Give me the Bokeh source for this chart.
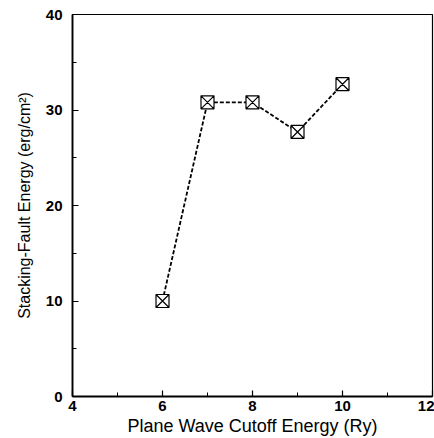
from bokeh.plotting import figure
from bokeh.models import Range1d, FixedTicker
from bokeh.embed import file_html
from bokeh.resources import INLINE

cutoff = [6, 7, 8, 9, 10]
sfe = [10.0, 30.8, 30.8, 27.7, 32.7]
x_ticks = [4, 6, 8, 10, 12]
y_ticks = [0, 10, 20, 30, 40]

p = figure(width=434, height=438, output_backend="svg", toolbar_location=None,
           x_range=Range1d(4, 12), y_range=Range1d(0, 40),
           min_border_left=72, min_border_right=2, min_border_top=14, min_border_bottom=42)
p.background_fill_color = "white"
p.border_fill_color = "white"
p.grid.visible = False
p.outline_line_color = "black"
p.outline_line_width = 1.2

for ax in (p.xaxis[0], p.yaxis[0]):
    ax.axis_line_width = 1.8
    ax.major_tick_in = 6
    ax.major_tick_out = 0
    ax.minor_tick_in = 4
    ax.minor_tick_out = 0
    ax.major_tick_line_width = 1.2
    ax.minor_tick_line_width = 1.0
    ax.major_label_text_font = "Liberation Sans"
    ax.major_label_text_font_style = "bold"
    ax.major_label_text_font_size = "15px"
    ax.major_label_text_color = "black"
    ax.axis_label_text_font = "Liberation Sans"
    ax.axis_label_text_font_style = "normal"
    ax.axis_label_text_color = "black"

p.xaxis.ticker = FixedTicker(ticks=x_ticks, minor_ticks=[5, 7, 9, 11])
p.yaxis.ticker = FixedTicker(ticks=y_ticks, minor_ticks=[5, 15, 25, 35])
p.xaxis.major_label_standoff = 4
p.yaxis.major_label_standoff = 10

p.yaxis.axis_label = "Stacking-Fault Energy (erg/cm²)"
p.yaxis.axis_label_text_font_size = "16px"
p.yaxis.axis_label_standoff = 10

p.xaxis.axis_label = "Plane Wave Cutoff Energy (Ry)"
p.xaxis.axis_label_text_font_size = "18px"
p.xaxis.axis_label_standoff = 2

p.line(cutoff, sfe, line_color="black", line_width=1.8, line_dash="4 2")
p.scatter(cutoff, sfe, marker="square_x", size=13, fill_color="white",
          line_color="black", line_width=1.2)

open("out.html", "w").write(file_html(p, INLINE))
